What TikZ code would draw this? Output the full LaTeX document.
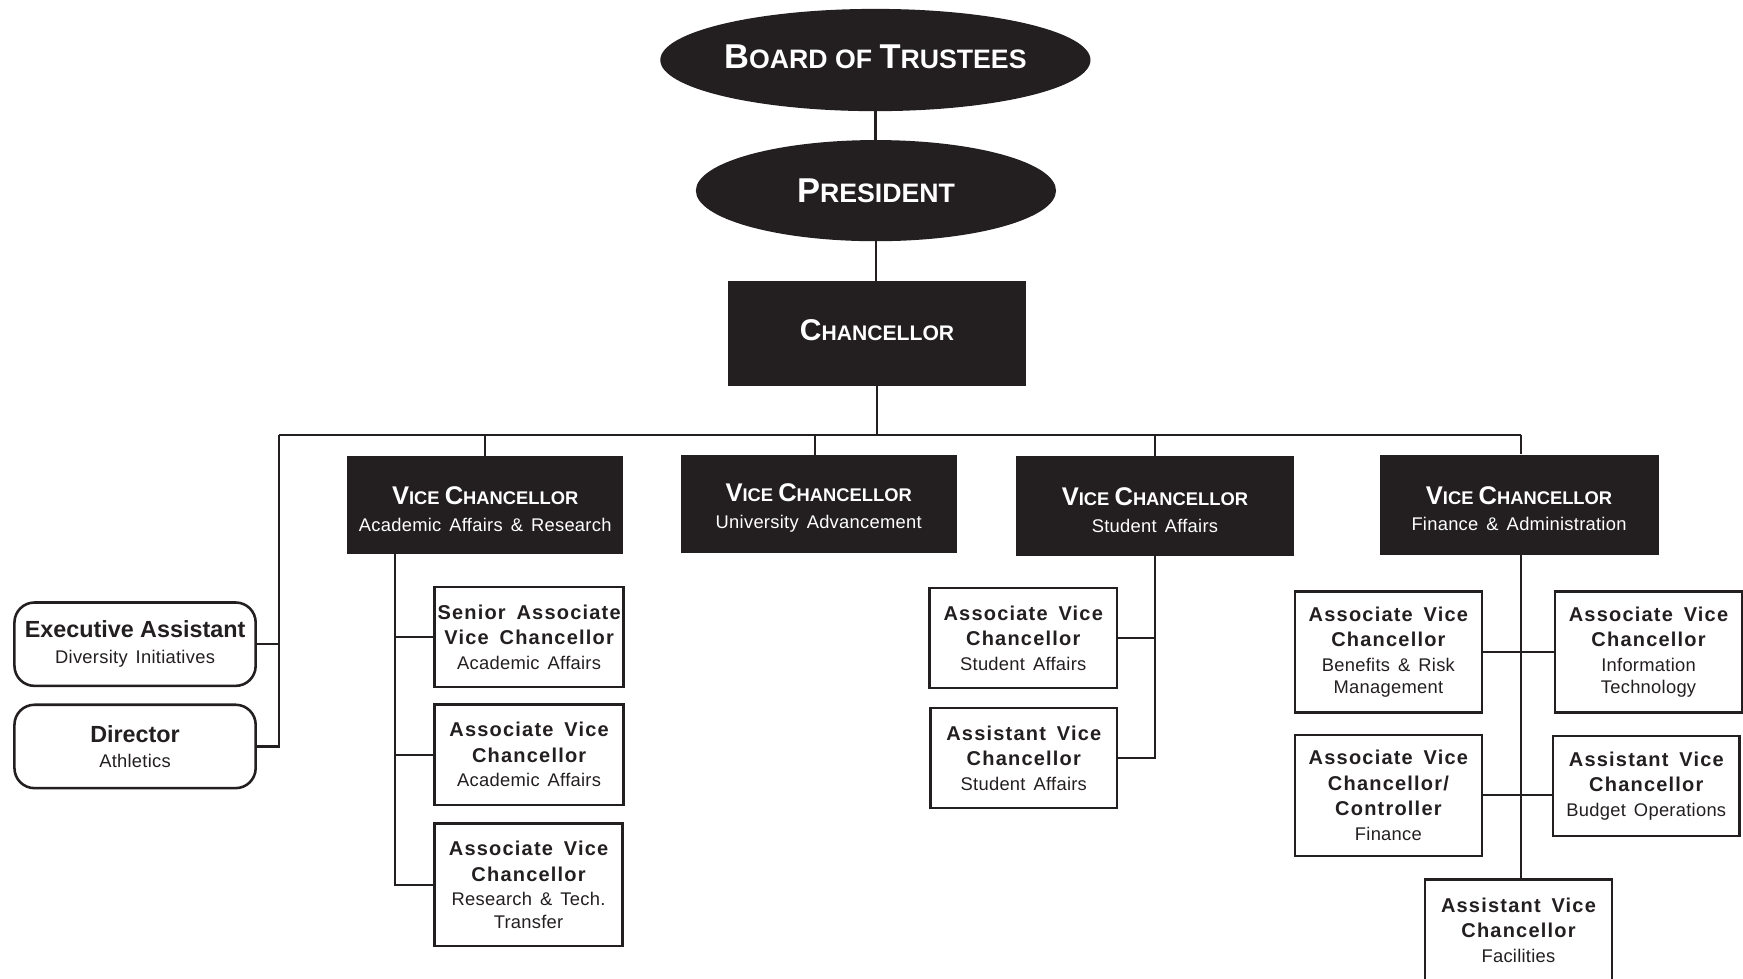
\documentclass[tikz,border=0pt]{standalone}
\usepackage{fontspec}
\setmainfont{Liberation Sans}
\newfontfamily\ttlfont{Liberation Sans}[LetterSpace=6,WordSpace=1.6]
\newfontfamily\subfont{Liberation Sans}[WordSpace=1.5,LetterSpace=1.5]
\usetikzlibrary{shapes.geometric}
\definecolor{ink}{RGB}{35,31,32}
\newcommand\TopB[1]{{\fontsize{31}{36}\selectfont #1}}
\newcommand\TopS[1]{{\fontsize{24}{36}\selectfont #1}}
\newcommand\ChB[1]{{\fontsize{27}{30}\selectfont #1}}
\newcommand\ChS[1]{{\fontsize{19}{30}\selectfont #1}}
\newcommand\VcB[1]{{\fontsize{23}{26}\selectfont #1}}
\newcommand\VcS[1]{{\fontsize{16.5}{26}\selectfont #1}}
\newcommand\VcHead{\rule{0pt}{23.5pt}\VcB{V}\VcS{ICE }\VcB{C}\VcS{HANCELLOR}}
\newcommand\Ttl{\ttlfont\bfseries\fontsize{18}{22}\selectfont}
\newcommand\Sub{\subfont\mdseries\fontsize{16.5}{22}\selectfont}
\tikzset{
  oval/.style={ellipse, fill=ink, text=white, inner sep=0pt, font=\bfseries},
  blk/.style={rectangle, fill=ink, text=white, inner sep=0pt, align=center, font=\bfseries\fontsize{16.5}{24}\selectfont},
  vcbox/.style={blk, minimum width=248pt, minimum height=88pt},
  wbox/.style={rectangle, draw=ink, line width=2.3pt, fill=white, inner sep=0pt, align=center, minimum width=169pt, text=ink, font=\fontsize{18}{22}\selectfont},
  rbox/.style={wbox, rounded corners=18pt, minimum width=217pt, minimum height=75pt, font=\fontsize{18}{23}\selectfont},
  conn/.style={draw=ink, line width=2pt},
}
\begin{document}
\begin{tikzpicture}[x=1pt,y=-1pt]
\useasboundingbox (0,0) rectangle (1568,880);
\clip (0,0) rectangle (1568,880);
\fill[white] (0,0) rectangle (1568,880);
\coordinate (busL) at (251,391);
\coordinate (busR) at (1368,391);
\coordinate (t1) at (355,498);
% top nodes
\node[oval, minimum width=387pt, minimum height=92pt, text height=15pt, text depth=0pt] (bot) at (787.5,54) {\TopB{B}\TopS{OARD OF }\TopB{T}\TopS{RUSTEES}};
\node[oval, minimum width=324pt, minimum height=91pt] (pres) at (788,171.5) {\TopB{P}\TopS{RESIDENT}};
\node[blk, minimum width=268pt, minimum height=94pt, text height=13.5pt, text depth=0pt] (chan) at (789,300) {\ChB{C}\ChS{HANCELLOR}};
% vice chancellors
\node[vcbox] (vc1) at (436.5,454.5) {\VcHead\\\Sub Academic Affairs \& Research};
\node[vcbox] (vc2) at (736.5,453.5) {\VcHead\\\Sub University Advancement};
\node[vcbox, minimum width=250pt, minimum height=90pt] (vc3) at (1039,455) {\VcHead\\\Sub Student Affairs};
\node[vcbox, minimum width=251pt, minimum height=90pt] (vc4) at (1366.5,454) {\VcHead\\\Sub Finance \& Administration};
% left rounded boxes
\node[rbox] (exec) at (121.5,579.5) {{\bfseries\fontsize{21}{25}\selectfont Executive Assistant}\\\Sub Diversity Initiatives};
\node[rbox] (dir) at (121.5,671.5) {{\bfseries\fontsize{21}{25}\selectfont Director}\\\Sub Athletics};
% academic affairs
\node[wbox, minimum width=170pt, minimum height=90pt] (a1) at (476,573) {\Ttl Senior Associate\\[1pt]\Ttl Vice Chancellor\\\Sub Academic Affairs};
\node[wbox, minimum width=170pt, minimum height=90pt] (a2) at (476,679) {\Ttl Associate Vice\\[1pt]\Ttl Chancellor\\\Sub Academic Affairs};
\node[wbox, minimum width=169pt, minimum height=110pt] (a3) at (475.5,796) {\Ttl Associate Vice\\[1pt]\Ttl Chancellor\\\Sub Research \& Tech.\\[-2pt]\Sub Transfer};
% student affairs
\node[wbox, minimum width=169pt, minimum height=90pt] (s1) at (920.5,574) {\Ttl Associate Vice\\[1pt]\Ttl Chancellor\\\Sub Student Affairs};
\node[wbox, minimum width=168pt, minimum height=90pt] (s2) at (921,682) {\Ttl Assistant Vice\\[1pt]\Ttl Chancellor\\\Sub Student Affairs};
% finance
\node[wbox, minimum width=168pt, minimum height=109pt] (f1) at (1249,586.5) {\Ttl Associate Vice\\[1pt]\Ttl Chancellor\\\Sub Benefits \& Risk\\[-2pt]\Sub Management};
\node[wbox, minimum width=168pt, minimum height=109pt] (f2) at (1483,586.5) {\Ttl Associate Vice\\[1pt]\Ttl Chancellor\\\Sub Information\\[-2pt]\Sub Technology};
\node[wbox, minimum width=168pt, minimum height=109pt] (f3) at (1249,715.5) {\Ttl Associate Vice\\[1pt]\Ttl Chancellor/\\[1pt]\Ttl Controller\\\Sub Finance};
\node[wbox, minimum width=168pt, minimum height=90pt] (f4) at (1481,707) {\Ttl Assistant Vice\\[1pt]\Ttl Chancellor\\\Sub Budget Operations};
\node[wbox, minimum width=168pt, minimum height=91pt] (f5) at (1366,836.5) {\Ttl Assistant Vice\\[1pt]\Ttl Chancellor\\\Sub Facilities};
% connectors
\path[conn] (bot.south) -- (bot.south |- pres.north);
\path[conn] (pres.south) -- (pres.south |- chan.north);
\path[conn] (chan.south) -- (chan.south |- busL);
\path[conn] (busL) -- (busR);
\path[conn] (vc1.north |- busL) -- (vc1.north);
\path[conn] ([xshift=-3.5pt]vc2.north |- busL) -- ([xshift=-3.5pt]vc2.north);
\path[conn] (vc3.north |- busL) -- (vc3.north);
\path[conn] (busR) -- (busR |- vc4.north);
\path[conn] (busL) |- (dir.east);
\path[conn] (exec.east) -- (exec.east -| busL);
\path[conn] (t1) |- (a3.west);
\path[conn] (a1.west) -- (a1.west -| t1);
\path[conn] (a2.west) -- (a2.west -| t1);
\path[conn] (vc3.south) |- (s2.east);
\path[conn] (s1.east) -- (s1.east -| vc3.south);
\path[conn] (busR |- vc4.south) -- (busR |- f5.north);
\path[conn] (f1.east) -- (f2.west);
\path[conn] (f3.east) -- (f3.east -| f4.west);
\end{tikzpicture}
\end{document}
